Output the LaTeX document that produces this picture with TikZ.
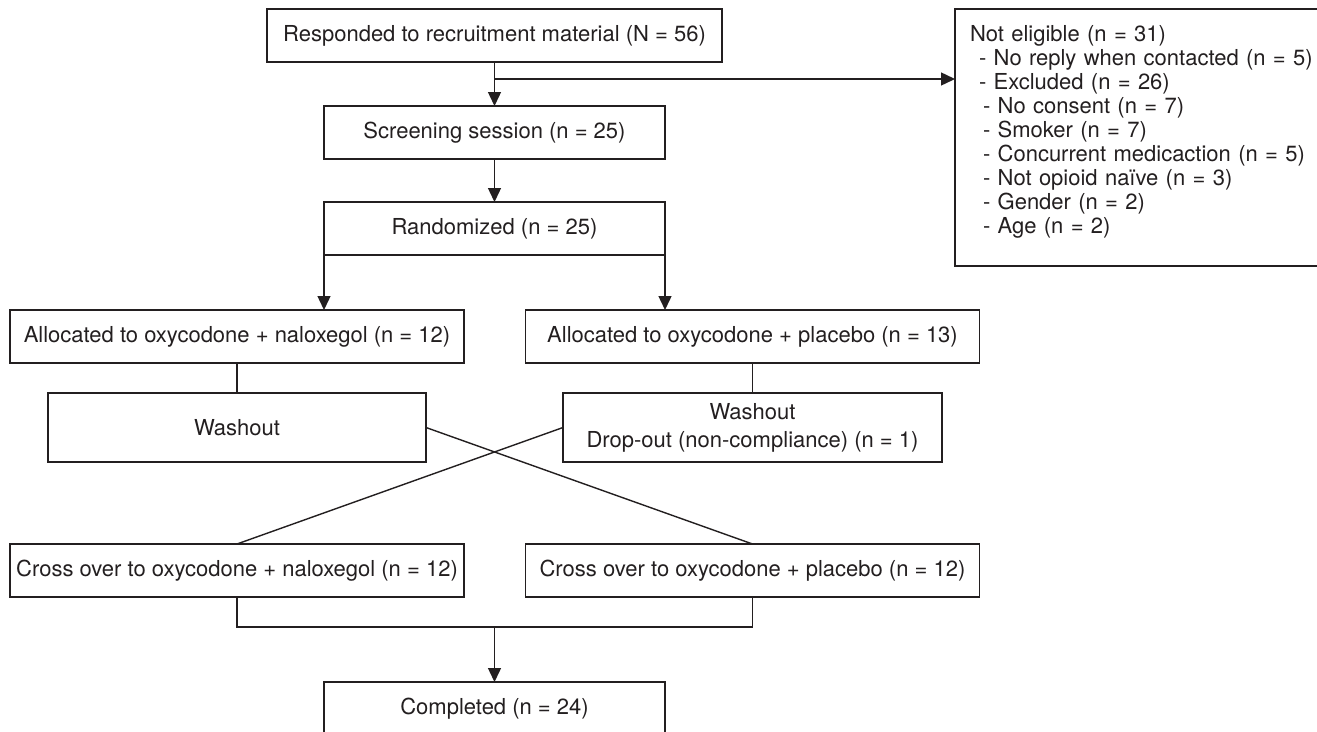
\documentclass[tikz,border=0pt]{standalone}
\usepackage{fontspec}
\setmainfont{TeX Gyre Heros}
\usetikzlibrary{arrows.meta}
\definecolor{ink}{HTML}{231F20}
\begin{document}
\begin{tikzpicture}[x=1pt,y=-1pt,
  every node/.style={text=ink},
  box/.style={draw=ink, line width=1.4pt, rectangle, inner sep=0pt, outer sep=0pt,
    minimum height=53pt, font=\fontsize{22}{28}\selectfont, align=center},
  link/.style={draw=ink, line width=1.4pt},
  arr/.style={link, -{Triangle[width=13pt,length=14pt]}}]
\useasboundingbox (0,0) rectangle (1317,731);
\clip (0,0) rectangle (1317,731);
\fill[white] (0,0) rectangle (1317,731);

\node[box, minimum width=455pt] (resp) at (494.5,35.5) {Responded to recruitment material (N = 56)};
\node[box, minimum width=341pt] (screen) at (494.5,132.5) {Screening session (n = 25)};
\node[box, minimum width=341pt] (rand) at (494.5,228.5) {Randomized (n = 25)};
\node[box, minimum width=454pt] (allocL) at (237,336.5) {Allocated to oxycodone + naloxegol (n = 12)};
\node[box, minimum width=454pt] (allocR) at (752.5,336.5) {Allocated to oxycodone + placebo (n = 13)};
\node[box, minimum width=378pt, minimum height=69pt] (washL) at (237,427.5) {Washout};
\node[box, minimum width=379pt, minimum height=69pt] (washR) at (752.5,427.5) {Washout\\Drop-out (non-compliance) (n = 1)};
\node[box, minimum width=454pt] (crossL) at (237,570.5) {Cross over to oxycodone + naloxegol (n = 12)};
\node[box, minimum width=454pt] (crossR) at (752.5,570.5) {Cross over to oxycodone + placebo (n = 12)};
\node[box, minimum width=341pt] (comp) at (494.5,708.5) {Completed (n = 24)};

\node[box, anchor=north west, align=left, text width=370pt, inner xsep=15pt,
  minimum height=257pt, font=\fontsize{22}{24}\selectfont] (ne) at (955,9)
  {Not eligible (n = 31)\\
   \hspace*{9pt}- No reply when contacted (n = 5)\\
   \hspace*{9pt}- Excluded (n = 26)\\
   \hspace*{13pt}- No consent (n = 7)\\
   \hspace*{13pt}- Smoker (n = 7)\\
   \hspace*{13pt}- Concurrent medicaction (n = 5)\\
   \hspace*{13pt}- Not opioid na\"ive (n = 3)\\
   \hspace*{13pt}- Gender (n = 2)\\
   \hspace*{13pt}- Age (n = 2)\par\vspace*{12pt}};

\coordinate (br) at (494.5,79);
\draw[arr] (resp.south) -- (screen.north);
\draw[arr] (br) -- (br -| ne.west);
\draw[arr] (screen.south) -- (rand.north);
\draw[arr] (rand.south west) -- (rand.south west |- allocL.north);
\draw[arr] (rand.south east) -- (rand.south east |- allocR.north);
\draw[link] (allocL.south) -- (washL.north);
\draw[link] (allocR.south) -- (washR.north);
\draw[link] (washL.east) -- (crossR.north);
\draw[link] (washR.west) -- (crossL.north);
\coordinate (jn) at (494.5,627);
\draw[link] (crossL.south) -- (crossL.south |- jn) -- (crossR.south |- jn) -- (crossR.south);
\draw[arr] (jn) -- (comp.north);
\end{tikzpicture}
\end{document}
